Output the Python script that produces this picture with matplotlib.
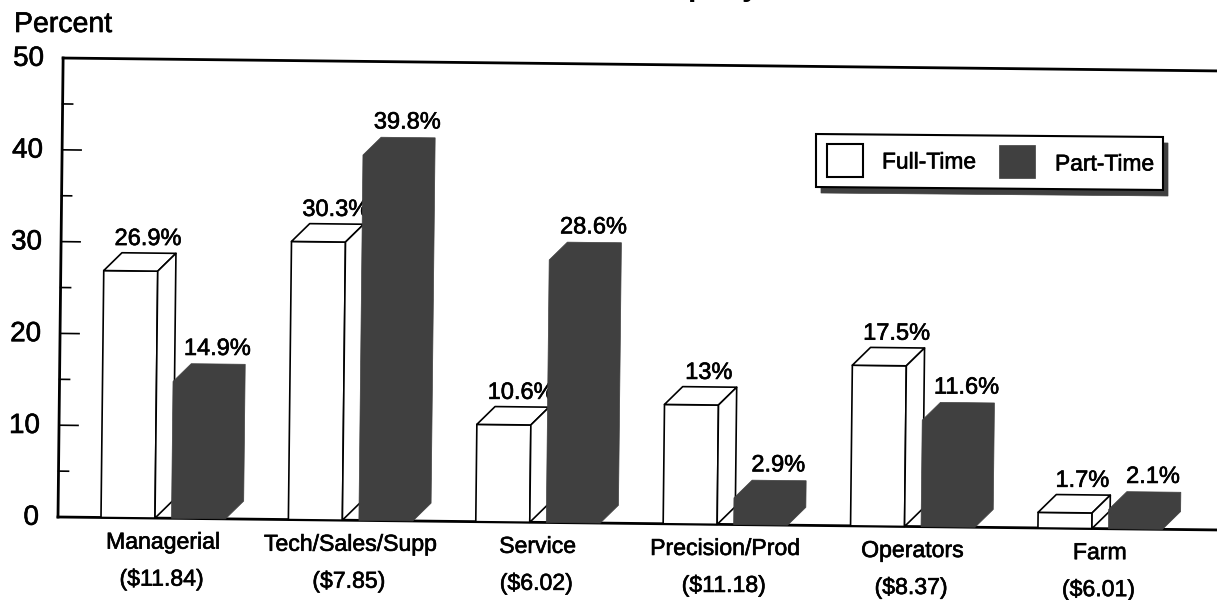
import matplotlib
matplotlib.use("Agg")
import matplotlib.pyplot as plt
from matplotlib.patches import Polygon
from matplotlib.patheffects import withStroke
from matplotlib.transforms import Affine2D

plt.rcParams['font.family'] = ['Liberation Sans', 'DejaVu Sans']

categories = ["Managerial", "Tech/Sales/Supp", "Service", "Precision/Prod", "Operators", "Farm"]
wages = ["($11.84)", "($7.85)", "($6.02)", "($11.18)", "($8.37)", "($6.01)"]
full_time = [26.9, 30.3, 10.6, 13.0, 17.5, 1.7]
part_time = [14.9, 39.8, 28.6, 2.9, 11.6, 2.1]
full_labels = ["26.9%", "30.3%", "10.6%", "13%", "17.5%", "1.7%"]
part_labels = ["14.9%", "39.8%", "28.6%", "2.9%", "11.6%", "2.1%"]
y_major = [0, 10, 20, 30, 40, 50]
y_minor = [5, 15, 25, 35, 45]

W, H = 1217, 600
X0, Y0 = 58, 517      # pixel position of the chart origin
PLOT_H = 459
PX_Y = PLOT_H / 50    # pixels per percent
PX_X = 187.4          # pixels per category
TILT = -0.64          # the page is scanned slightly rotated

fig = plt.figure(figsize=(W / 100, H / 100), dpi=100)
ax = fig.add_axes([X0 / W, (H - Y0) / H, (W - X0) / W, PLOT_H / H])
ax.set_xlim((X0 - 101) / PX_X, (W - 101) / PX_X)
ax.set_ylim(0, 50)
ax.axis('off')
tr = ax.transData + Affine2D().rotate_deg_around(X0, H - Y0, TILT)

DARK = '#404040'
bw = 54 / PX_X
gap = 70.5 / PX_X
dx = 18 / PX_X
dy = 18 / PX_Y
xr = (W + 20 - 101) / PX_X
x_left = ax.get_xlim()[0]
inked = [withStroke(linewidth=0.45, foreground='black')]


def poly(pts, **kw):
    ax.add_patch(Polygon(pts, closed=True, transform=tr, clip_on=False, **kw))


def label(x, y, s, size, z=6, ha='center'):
    ax.text(x, y, s, transform=tr, ha=ha, va='center', fontsize=size, zorder=z,
            clip_on=False, path_effects=inked)


# axes frame
for xs, ys in [([x_left, x_left], [0, 50]), ([x_left, xr], [50, 50]), ([x_left, xr], [0, 0])]:
    ax.plot(xs, ys, color='black', lw=2.0, transform=tr, clip_on=False, zorder=1)
for v in y_major[1:-1]:
    ax.plot([x_left, x_left + 19 / PX_X], [v, v], color='black', lw=1.2, transform=tr, clip_on=False, zorder=1)
for v in y_minor:
    ax.plot([x_left, x_left + 10 / PX_X], [v, v], color='black', lw=1.2, transform=tr, clip_on=False, zorder=1)
for v in y_major:
    label(x_left - 19 / PX_X, v - 1 / PX_Y, str(v), 20, z=2, ha='right')

for i, (f, p) in enumerate(zip(full_time, part_time)):
    # full-time bar: faces drawn separately, each with a black outline
    edge = dict(facecolor='white', edgecolor='black', lw=1.2, joinstyle='round', zorder=3)
    poly([(i, 0), (i + bw, 0), (i + bw, f), (i, f)], **edge)
    poly([(i, f), (i + bw, f), (i + bw + dx, f + dy), (i + dx, f + dy)], **edge)
    poly([(i + bw, 0), (i + bw + dx, dy), (i + bw + dx, f + dy), (i + bw, f)], **edge)
    label(i + 44 / PX_X, f + dy + 14 / PX_Y, full_labels[i], 17, z=4)
    # part-time bar: one dark silhouette
    x = i + gap
    poly([(x, 0), (x + bw, 0), (x + bw + dx, dy), (x + bw + dx, p + dy), (x + dx, p + dy), (x, p)],
         facecolor=DARK, edgecolor=DARK, lw=0.5, zorder=5)
    label(x + 44 / PX_X, p + dy + 15 / PX_Y, part_labels[i], 17)
    # category captions
    label(i + 62 / PX_X, -24 / PX_Y, categories[i], 16.6)
    label(i + 61 / PX_X, -61 / PX_Y, wages[i], 16.6)

# legend, placed in the page's pixel grid
px = Affine2D().scale(1, -1).translate(0, H)


def lbox(pts, **kw):
    fig.add_artist(Polygon(pts, closed=True, transform=px, zorder=10, **kw))


lbox([(821, 140), (1168, 143), (1168, 196), (821, 193)], facecolor=DARK, edgecolor=DARK, lw=0.5)
lbox([(816, 134), (1163, 137), (1163, 190), (816, 187)], facecolor='white', edgecolor='black', lw=1.5)
lbox([(827, 144), (863, 144), (863, 177), (827, 177)], facecolor='white', edgecolor='black', lw=1.5)
lbox([(999, 145), (1035, 145), (1035, 178), (999, 178)], facecolor=DARK, edgecolor=DARK, lw=0.5)
fig.text(882 / W, 1 - 162 / H, "Full-Time", fontsize=16.4, ha='left', va='center', zorder=11, path_effects=inked)
fig.text(1055 / W, 1 - 164 / H, "Part-Time", fontsize=16.4, ha='left', va='center', zorder=11, path_effects=inked)

fig.text(14 / W, 1 - 25 / H, "Percent", fontsize=20.5, ha='left', va='center', path_effects=inked)

# only the descenders of the cropped-off title remain on the page
fig.text(697 / W, 1 + 5 / H, "p", fontsize=22, weight='bold', ha='center', va='baseline')
fig.text(750 / W, 1 + 5 / H, "y", fontsize=22, weight='bold', ha='center', va='baseline')

fig.savefig("out.png", dpi=100, facecolor='white')
